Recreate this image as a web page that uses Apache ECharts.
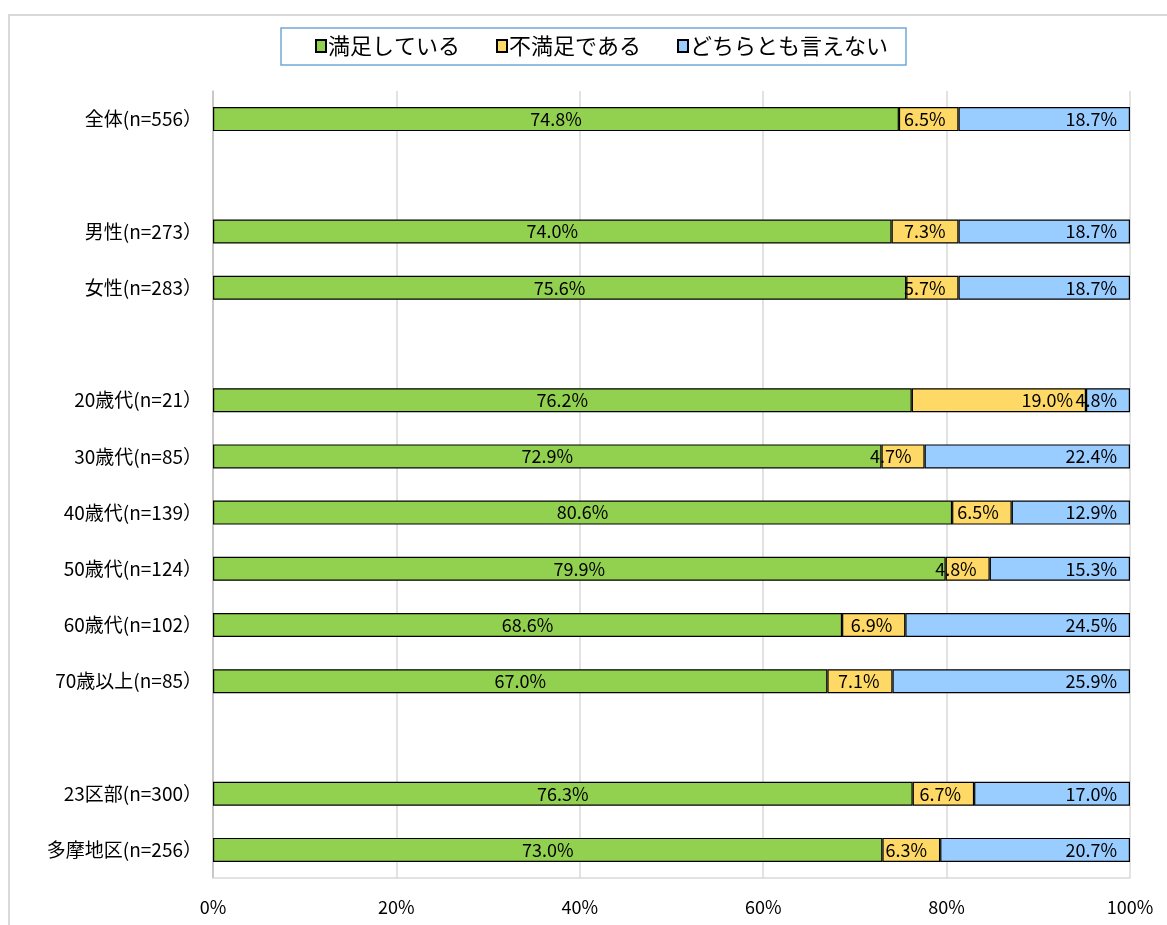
<!DOCTYPE html>
<html><head><meta charset="utf-8">
<script src="https://cdn.jsdelivr.net/npm/echarts@6/dist/echarts.min.js"></script>
<style>html,body{margin:0;padding:0;background:#fff}#c{width:1167px;height:925px}</style>
</head><body><div id="c"></div>
<script>
const categories = ['全体(n=556）','','男性(n=273）','女性(n=283）','','20歳代(n=21）','30歳代(n=85）','40歳代(n=139）','50歳代(n=124）','60歳代(n=102）','70歳以上(n=85）','','23区部(n=300）','多摩地区(n=256）'];
const seriesNames = ['満足している','不満足である','どちらとも言えない'];
const satisfied =    [74.8,null,74.0,75.6,null,76.2,72.9,80.6,79.9,68.6,67.0,null,76.3,73.0];
const dissatisfied = [6.5,null,7.3,5.7,null,19.0,4.7,6.5,4.8,6.9,7.1,null,6.7,6.3];
const neither =      [18.7,null,18.7,18.7,null,4.8,22.4,12.9,15.3,24.5,25.9,null,17.0,20.7];
const xTicks = [0,20,40,60,80,100];

const FONT = '"Noto Sans CJK JP", "Noto Sans", sans-serif';
const colors = ['#92D050','#FFD966','#99CCFF'];
const chart = echarts.init(document.getElementById('c'), null, {renderer:'canvas'});
function lbl(pos, dist){
  return {show:true, position:pos, distance:dist, color:'#000', fontSize:18, fontFamily:FONT,
    offset:[0,2], formatter:p=>p.value==null?'':Number(p.value).toFixed(1)+'%'};
}
const datasets=[satisfied,dissatisfied,neither];
chart.setOption({
  animation:false,
  textStyle:{fontFamily:FONT},
  graphic:[{type:'rect',shape:{x:9,y:15,width:1300,height:1000},style:{fill:'none',stroke:'#d9d9d9',lineWidth:2},silent:true}],
  legend:{
    top:28, left:281,
    data:seriesNames,
    itemWidth:10, itemHeight:12, itemGap:36,
    padding:[7,18,8,34],
    borderColor:'#6FA8DC', borderWidth:1.5,
    textStyle:{fontSize:22, color:'#000', fontFamily:FONT, padding:[0,0,0,-3]},
    icon:'rect'
  },
  grid:{left:213, right:37, top:91, bottom:47, containLabel:false},
  xAxis:{type:'value', min:0, max:100, interval:20,
    axisLine:{show:true, lineStyle:{color:'#d9d9d9', width:1.5}},
    axisTick:{show:false},
    splitLine:{show:true, lineStyle:{color:'#d9d9d9', width:1.5}},
    axisLabel:{formatter:v=>xTicks.includes(v)?v+'%':'', fontSize:18, color:'#000', margin:20, fontFamily:FONT}
  },
  yAxis:{type:'category', data:categories, inverse:true,
    axisLine:{show:true, lineStyle:{color:'#bfbfbf', width:1.5}},
    axisTick:{show:false},
    axisLabel:{fontSize:19, color:'#000', margin:11, fontFamily:FONT}
  },
  series:seriesNames.map((n,i)=>({
    name:n, type:'bar', stack:'s', barWidth:24,
    data:datasets[i],
    itemStyle:{color:colors[i], borderColor:'#000', borderWidth:1.2},
    label: i===0 ? lbl('inside',5) : lbl('insideRight',13),
    labelLayout:{hideOverlap:false}
  }))
});
</script></body></html>
